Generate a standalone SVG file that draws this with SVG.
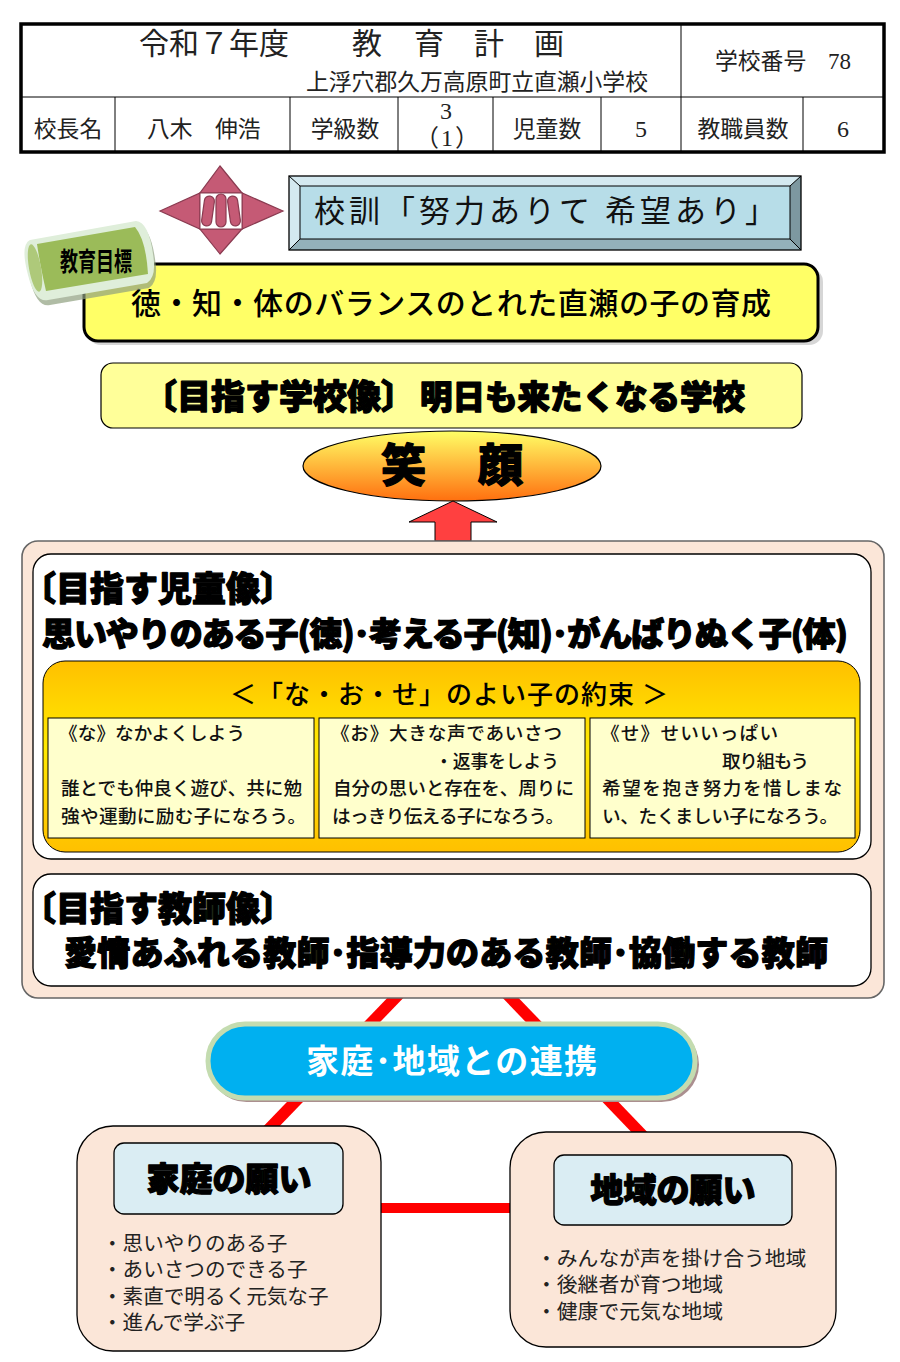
<svg xmlns="http://www.w3.org/2000/svg" width="900" height="1362" viewBox="0 0 900 1362">
<style>
text{font-family:"Noto Sans CJK JP","Noto Sans",sans-serif;fill:#000}
.t{font-size:22.8px;fill:#222}
.s{font-family:"Liberation Serif","Noto Sans CJK JP",serif;font-size:23px;fill:#222}
.c{text-anchor:middle}
.b{font-size:18.6px;fill:#111;font-weight:500}
.l{font-size:20.6px;fill:#222}
.h{font-size:34px;font-weight:900;stroke:#000;stroke-width:1.3px;stroke-linejoin:round}
.n{stroke:#000;stroke-width:1.3;fill:#fbe6d8}
.w{stroke:#000;stroke-width:1.3;fill:#fff}
.y{fill:#ffffcc;stroke:#000;stroke-width:1}
.d{fill:#daedf3;stroke:#000;stroke-width:1.3}
.g{stroke:#000;stroke-width:1;fill:none}
.m{fill:#c55a75;stroke:#8a3a50;stroke-width:1.2}
</style>
<defs>
<linearGradient id="gs" x1="0" y1="0" x2="0" y2="1"><stop offset="0" stop-color="#ffff66"/><stop offset="1" stop-color="#ff6f0f"/></linearGradient>
<linearGradient id="go" x1="0" y1="0" x2="0" y2="1"><stop offset="0" stop-color="#ffc000"/><stop offset=".45" stop-color="#ffea00"/><stop offset="1" stop-color="#ffc000"/></linearGradient>
</defs>
<rect width="900" height="1362" fill="#fff"/>
<g id="connectors" stroke="#ff0000" stroke-width="11.5" fill="none">
<path d="M403 990L265 1133"/>
<path d="M503 990L647 1140"/>
<path d="M378 1208H514" stroke-width="10"/>
</g>
<g id="header">
<rect x="21" y="24" width="863" height="128" fill="#fff" stroke="#000" stroke-width="3.5"/>
<path class="g" d="M21 97H884M681 24V152M115 97V152M290 97V152M398 97V152M493 97V152M601 97V152M803 97V152"/>
<text x="139" y="54" font-size="30" style="fill:#222">令和７年度</text>
<text x="352 414 474 534" y="54" font-size="30" style="fill:#222">教育計画</text>
<text x="306" y="90" class="t">上浮穴郡久万高原町立直瀬小学校</text>
<text x="715" y="69" class="t">学校番号</text><text x="828" y="69" class="s">78</text>
<text class="t c" x="68" y="137">校長名</text>
<text x="147" y="137" class="t">八木</text><text x="215" y="137" class="t">伸浩</text>
<text class="t c" x="345" y="137">学級数</text>
<text class="s" style="font-size:24px"><tspan x="440" y="119">3</tspan><tspan x="415 441 455" y="146">（1）</tspan></text>
<text class="t c" x="547" y="137">児童数</text>
<text class="s c" x="641" y="137" style="font-size:24px">5</text>
<text class="t c" x="743" y="137">教職員数</text>
<text class="s c" x="843" y="137" style="font-size:24px">6</text>
</g>
<g id="emblem">
<path class="m" d="M220 166L242 193H200Z"/>
<path class="m" d="M220 254L200 229H242Z"/>
<path class="m" d="M160 211L200 193V229Z"/>
<path class="m" d="M283 211L242 193V229Z"/>
<rect x="200" y="193" width="42" height="36" fill="#fff" stroke="#8a3a50"/>
<rect class="m" x="203" y="196" width="10" height="30" rx="5" transform="rotate(8 208 211)"/>
<rect class="m" x="216" y="194" width="10" height="33" rx="5"/>
<rect class="m" x="229" y="196" width="10" height="30" rx="5" transform="rotate(-8 234 211)"/>
</g>
<g id="motto">
<rect x="289" y="176" width="512" height="74" fill="#b7dde8"/>
<path d="M289 176H801L790 186H300V239L289 250Z" fill="#d4e9f0"/>
<path d="M289 250L300 239H790L801 250Z" fill="#93b1ba"/>
<path d="M801 176V250L790 239V186Z" fill="#7d98a0"/>
<rect x="289" y="176" width="512" height="74" fill="none" stroke="#000" stroke-width="1.3"/>
<rect x="300" y="186" width="490" height="53" fill="none" stroke="#000" stroke-width="1"/>
<path class="g" d="M289 176L300 186M801 176L790 186M289 250L300 239M801 250L790 239"/>
<text x="314" y="222" font-size="31" letter-spacing="4" style="fill:#111">校訓「努力ありて 希望あり」</text>
</g>
<g id="goal">
<rect x="87" y="268" width="736" height="77" rx="14" fill="#bbb" opacity=".6"/>
<rect x="84" y="264" width="734" height="77" rx="14" fill="#ffff66" stroke="#000" stroke-width="3"/>
<text x="131" y="314" font-size="30" font-weight="500" textLength="640">徳・知・体のバランスのとれた直瀬の子の育成</text>
</g>
<g id="goal-label">
<path d="M30 240L136 221Q150 222 154 262Q155 278 147 283L48 300Q35 303 28 275Q20 245 30 240Z" fill="#8f9f7f" opacity=".7" transform="translate(2 5)"/>
<path d="M30 240L136 221Q150 222 154 262Q155 278 147 283L48 300Q35 303 28 275Q20 245 30 240Z" fill="#dfeeda"/>
<path d="M37 244L135 227Q146 240 148 274L46 291Q40 265 37 244Z" fill="#9bbb59"/>
<ellipse cx="35" cy="268" rx="6" ry="24" transform="rotate(-10 35 268)" fill="#aec97a"/>
<text x="60" y="271" font-size="26" font-weight="700" textLength="72" lengthAdjust="spacingAndGlyphs">教育目標</text>
</g>
<g id="ideal-school">
<rect x="101" y="363" width="701" height="65" rx="12" fill="#ffff99" stroke="#000" stroke-width="1.2"/>
<text class="h" y="409"><tspan x="143">〔目指す学校像〕</tspan><tspan x="420" style="font-size:32.5px">明日も来たくなる学校</tspan></text>
</g>
<g id="smile">
<ellipse cx="452" cy="466" rx="149" ry="35" fill="url(#gs)" stroke="#000" stroke-width="1.2"/>
<text class="h" x="381" y="482" style="font-size:45px">笑</text>
<text class="h" x="478" y="482" style="font-size:45px">顔</text>
</g>
<g id="arrow">
<path d="M453 501L497 522H471V541H435V522H409Z" fill="#ff4040" stroke="#000" stroke-width="1"/>
</g>
<g id="panel">
<rect x="22" y="541" width="862" height="457" rx="16" class="n" style="stroke:#666;stroke-width:1.6"/>
</g>
<g id="ideal-child">
<rect x="33" y="554" width="838" height="305" rx="18" class="w"/>
<text class="h" x="22" y="601">〔目指す児童像〕</text>
<text class="h" x="42" y="646" textLength="806" style="font-size:33px">思いやりのある子(徳)･考える子(知)･がんばりぬく子(体)</text>
</g>
<g id="promise">
<rect x="43" y="661" width="817" height="191" rx="22" fill="url(#go)" stroke="#000" stroke-width="1"/>
<text x="230" y="704" font-size="26" font-weight="500" textLength="438">＜「な・お・せ」のよい子の約束 ＞</text>
</g>
<g id="na">
<rect x="48" y="718" width="266" height="120" class="y"/>
<text x="59" y="740" class="b" textLength="186">《な》なかよくしよう</text>
<text x="61" y="795" class="b" textLength="241">誰とでも仲良く遊び、共に勉</text>
<text x="61" y="823" class="b" textLength="245">強や運動に励む子になろう。</text>
</g>
<g id="o">
<rect x="319" y="718" width="266" height="120" class="y"/>
<text x="331" y="740" class="b" textLength="231">《お》大きな声であいさつ</text>
<text x="435" y="768" class="b" textLength="124" lengthAdjust="spacingAndGlyphs">・返事をしよう</text>
<text x="333" y="795" class="b" textLength="241">自分の思いと存在を、周りに</text>
<text x="332" y="823" class="b" textLength="232">はっきり伝える子になろう。</text>
</g>
<g id="se">
<rect x="590" y="718" width="265" height="120" class="y"/>
<text x="601" y="740" class="b" textLength="177">《せ》せいいっぱい</text>
<text x="722" y="768" class="b" textLength="87">取り組もう</text>
<text x="602" y="795" class="b" textLength="240">希望を抱き努力を惜しまな</text>
<text x="602" y="823" class="b" textLength="236">い、たくましい子になろう。</text>
</g>
<g id="ideal-teacher">
<rect x="33" y="874" width="838" height="112" rx="18" class="w"/>
<text class="h" x="22" y="921">〔目指す教師像〕</text>
<text class="h" x="64" y="965" textLength="764" style="font-size:33px">愛情あふれる教師･指導力のある教師･協働する教師</text>
</g>
<g id="collab">
<rect x="209" y="1027" width="490" height="75" rx="37.5" fill="#ab8f8f"/>
<rect x="208" y="1024" width="487" height="74" rx="37" fill="#00b0f0" stroke="#c4dcb0" stroke-width="5"/>
<text x="306" y="1073" font-size="33" font-weight="700" textLength="291" style="fill:#fff">家庭･地域との連携</text>
</g>
<g id="home">
<rect x="77" y="1126" width="304" height="225" rx="36" class="n"/>
<rect x="114" y="1143" width="229" height="71" rx="10" class="d"/>
<text class="h c" x="229" y="1191" style="font-size:33px">家庭の願い</text>
<text class="l"><tspan x="102" y="1251">・思いやりのある子</tspan><tspan x="102" y="1277">・あいさつのできる子</tspan><tspan x="102" y="1304">・素直で明るく元気な子</tspan><tspan x="102" y="1330">・進んで学ぶ子</tspan></text>
</g>
<g id="community">
<rect x="510" y="1132" width="326" height="215" rx="36" class="n"/>
<rect x="554" y="1155" width="238" height="70" rx="10" class="d"/>
<text class="h c" x="673" y="1202" style="font-size:33px">地域の願い</text>
<text class="l" style="font-size:20.8px"><tspan x="536" y="1266">・みんなが声を掛け合う地域</tspan><tspan x="536" y="1292">・後継者が育つ地域</tspan><tspan x="536" y="1319">・健康で元気な地域</tspan></text>
</g>
</svg>
